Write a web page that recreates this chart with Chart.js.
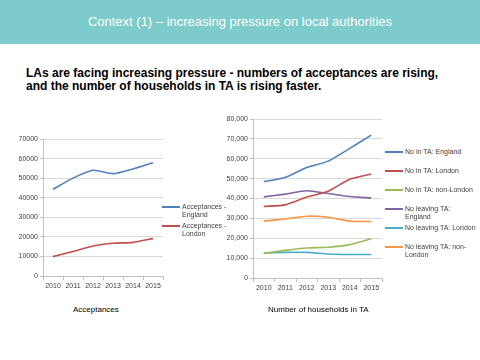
<!DOCTYPE html>
<html>
<head>
<meta charset="utf-8">
<script src="https://cdn.jsdelivr.net/npm/chart.js@4"></script>
<style>
  body { margin: 0; width: 480px; height: 360px; background: #fff; position: relative; overflow: hidden; font-family: 'Liberation Sans', Arial, sans-serif; }
  .header { position: absolute; left: 0; top: 0; width: 480px; height: 44px; background: #7ecbcb; color: #fff; font-size: 13px; text-align: center; line-height: 44px; }
  .lead { position: absolute; left: 26px; top: 67px; font-size: 12px; font-weight: bold; color: #000; line-height: 13px; }
  .box { position: absolute; }
  .legend { position: absolute; font-size: 7px; color: #404040; line-height: 8px; }
  .legend .item { position: absolute; left: 0; padding-left: 20px; white-space: nowrap; }
  .legend .item span { position: absolute; left: 0; top: 3px; width: 18px; height: 2px; }
  .caption { position: absolute; font-size: 8px; color: #000; }
</style>
</head>
<body>
<div class="header">Context (1) – increasing pressure on local authorities</div>
<div class="lead">LAs are facing increasing pressure - numbers of acceptances are rising,<br>and the number of households in TA is rising faster.</div>

<div class="box" style="left:15px;top:130px;width:150px;height:165px"><canvas id="accChart"></canvas></div>
<div class="legend" id="accLegend" style="left:162px;top:0"></div>
<div class="box" style="left:220px;top:110px;width:165px;height:185px"><canvas id="taChart"></canvas></div>
<div class="legend" id="taLegend" style="left:385px;top:0"></div>

<div class="caption" style="left:73px;top:305px">Acceptances</div>
<div class="caption" style="left:268px;top:305px">Number of households in TA</div>

<script>
const years = ['2010', '2011', '2012', '2013', '2014', '2015'];

const acceptancesEngland = [44300, 50000, 54000, 52300, 54700, 57900];
const acceptancesLondon = [9900, 12500, 15300, 16700, 17200, 19100];

const inTaEngland = [48400, 50600, 55600, 58800, 65200, 71900];
const inTaLondon = [36000, 36800, 40700, 43700, 49700, 52300];
const inTaNonLondon = [12400, 13900, 15100, 15500, 16800, 19800];
const leavingTaEngland = [40800, 42200, 43900, 42500, 41000, 40300];
const leavingTaLondon = [12600, 12900, 12900, 12100, 11800, 11800];
const leavingTaNonLondon = [28600, 29700, 31100, 30600, 28600, 28400];

const accLabels = [['Acceptances -', 'England'], ['Acceptances -', 'London']];
const taLabels = [['No in TA: England'], ['No in TA: London'], ['No in TA: non-London'],
  ['No leaving TA:', 'England'], ['No leaving TA: London'], ['No leaving TA: non-', 'London']];

const colours = ['#4f81bd', '#c0504d', '#9bbb59', '#8064a2', '#4bacc6', '#f79646'];

const tickFont = { family: 'Liberation Sans', size: 7 };

const makeChart = (id, series, labels, max, fmt, yWidth, xHeight, padRight) => {
  new Chart(document.getElementById(id), {
    type: 'line',
    data: {
      labels: years,
      datasets: series.map((data, i) => ({
        data: data,
        label: labels[i].join(' '),
        borderColor: colours[i],
        backgroundColor: colours[i],
        borderWidth: 1.6,
        pointRadius: 0,
        tension: 0.2
      }))
    },
    options: {
      responsive: true,
      maintainAspectRatio: false,
      animation: false,
      layout: { padding: { top: 9, right: padRight, left: 0, bottom: 0 } },
      plugins: { legend: { display: false }, tooltip: { enabled: false } },
      scales: {
        x: {
          offset: true,
          grid: { offset: true, drawOnChartArea: false, color: '#bfbfbf', tickLength: 4 },
          border: { color: '#bfbfbf' },
          ticks: { font: tickFont, color: '#404040', padding: 2, maxRotation: 0 },
          afterFit: (s) => { s.height = xHeight; }
        },
        y: {
          min: 0,
          max: max,
          grid: { color: '#d9d9d9', tickLength: 3, tickColor: '#bfbfbf' },
          border: { color: '#bfbfbf' },
          ticks: { stepSize: 10000, font: tickFont, color: '#404040', padding: 2, callback: fmt },
          afterFit: (s) => { s.width = yWidth; }
        }
      }
    }
  });
};

const buildLegend = (id, labels, tops) => {
  const el = document.getElementById(id);
  labels.forEach((lines, i) => {
    const item = document.createElement('div');
    item.className = 'item';
    item.style.top = tops[i] + 'px';
    item.innerHTML = '<span style="background:' + colours[i] + '"></span>' + lines.join('<br>');
    el.appendChild(item);
  });
};

makeChart('accChart', [acceptancesEngland, acceptancesLondon], accLabels, 70000,
  (v) => String(v), 28, 19, 2);
makeChart('taChart', [inTaEngland, inTaLondon, inTaNonLondon, leavingTaEngland, leavingTaLondon, leavingTaNonLondon],
  taLabels, 80000, (v) => v.toLocaleString('en-US'), 33, 17, 3);

buildLegend('accLegend', accLabels, [203, 222]);
buildLegend('taLegend', taLabels, [148, 167, 186, 205, 224, 243]);
</script>
</body>
</html>
